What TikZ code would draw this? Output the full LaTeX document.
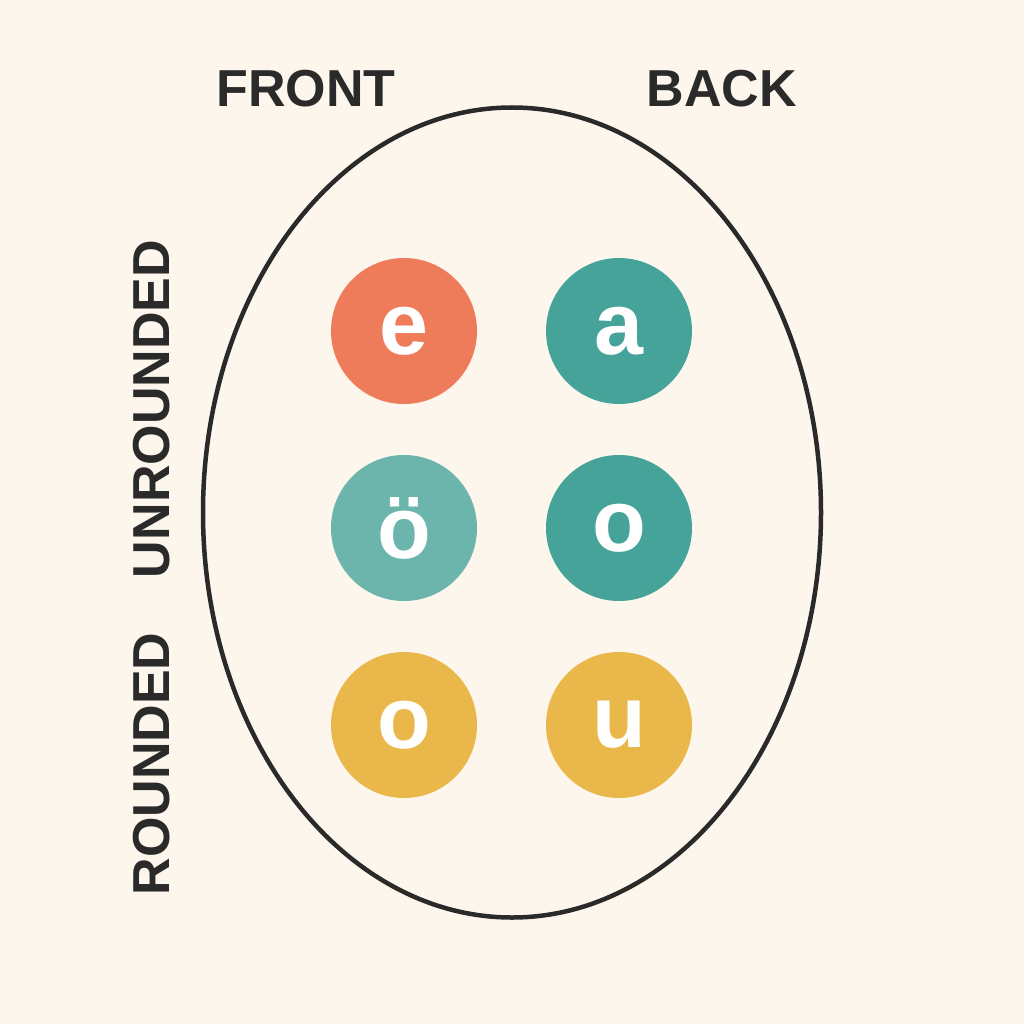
\documentclass[tikz,border=0pt]{standalone}
\usepackage{fontspec}
\setmainfont{Liberation Sans}
\definecolor{bg}{HTML}{FDF6EC}
\definecolor{cor}{HTML}{EE7B5A}
\definecolor{cte}{HTML}{45A39A}
\definecolor{clt}{HTML}{6BB5AD}
\definecolor{cye}{HTML}{EAB84A}
\definecolor{ink}{HTML}{2A2A2A}
\begin{document}
\begin{tikzpicture}[x=1pt,y=-1pt,
  vow/.style={circle,minimum size=146pt,inner sep=0pt,text=white,font=\fontsize{88}{88}\selectfont\bfseries},
  lab/.style={text=ink,font=\fontsize{52}{52}\selectfont\bfseries,inner sep=0pt}]
\fill[bg] (0,0) rectangle (1024,1024);
\useasboundingbox (0,0) rectangle (1024,1024);
\draw[ink,line width=4.5pt] (512,512.5) ellipse [x radius=309, y radius=405];
\node[vow,fill=cor] (e) at (404,331) {e};
\node[vow,fill=cte] (a) at (619,331) {a};
\node[vow,fill=clt] (oe) at (404,528) {ö};
\node[vow,fill=cte] (o) at (619,528) {o};
\node[vow,fill=cye] (o2) at (404,725) {o};
\node[vow,fill=cye] (u) at (619,725) {u};
\node[lab] (front) at (306,89) {FRONT};
\node[lab] (back) at (722,89) {BACK};
\node[lab,rotate=90] (unr) at (152,409) {UNROUNDED};
\node[lab,rotate=90] (rnd) at (152,764) {ROUNDED};
\end{tikzpicture}
\end{document}
